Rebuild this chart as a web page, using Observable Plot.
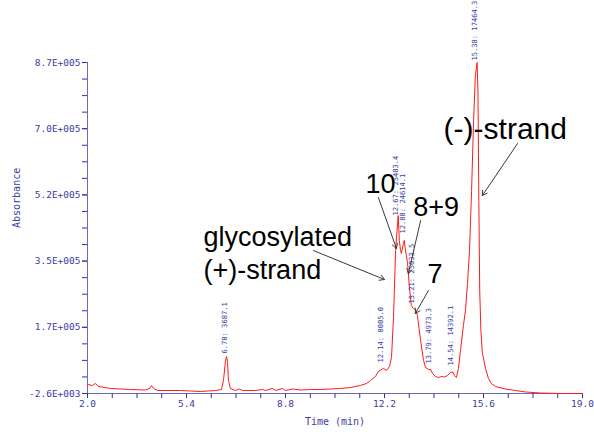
<!DOCTYPE html>
<html><head><meta charset="utf-8">
<script src="https://cdn.jsdelivr.net/npm/d3@7"></script>
<script src="https://cdn.jsdelivr.net/npm/@observablehq/plot@0.6"></script>
<style>html,body{margin:0;padding:0;background:#fff}</style>
</head><body><div id="chart"></div>
<script>
// Chromatogram trace: time (min) and absorbance (thousands)
const time = [2.00, 2.17, 2.27, 2.38, 2.79, 3.48, 3.99, 4.13, 4.20, 4.27, 4.40, 5.19, 5.88, 6.40, 6.60, 6.67, 6.74, 6.78, 6.81, 6.84, 6.91, 7.08, 7.22, 7.32, 7.77, 8.01, 8.11, 8.35, 8.46, 8.70, 8.80, 9.04, 9.31, 9.66, 10.00, 10.34, 10.69, 11.03, 11.37, 11.58, 11.72, 11.89, 11.99, 12.10, 12.16, 12.27, 12.37, 12.44, 12.51, 12.58, 12.65, 12.67, 12.71, 12.75, 12.78, 12.85, 12.88, 12.91, 12.99, 13.05, 13.12, 13.19, 13.26, 13.33, 13.44, 13.54, 13.61, 13.71, 13.79, 13.85, 13.95, 14.05, 14.16, 14.26, 14.36, 14.47, 14.54, 14.60, 14.67, 14.74, 14.81, 14.91, 14.98, 15.05, 15.12, 15.19, 15.26, 15.32, 15.38, 15.41, 15.44, 15.47, 15.51, 15.56, 15.67, 15.77, 15.87, 16.01, 16.35, 16.70, 17.04, 17.56, 18.24, 19.00];
const absorbanceK = [21.1, 18.5, 23.8, 15.9, 10.6, 7.9, 6.6, 10.6, 18.5, 10.6, 5.3, 5.3, 2.7, 5.3, 7.9, 31.7, 84.4, 94.9, 79.1, 31.7, 10.6, 5.3, 9.3, 5.3, 5.3, 7.9, 5.3, 10.6, 5.3, 10.6, 5.3, 9.3, 6.6, 7.9, 7.9, 9.3, 10.6, 13.2, 18.5, 23.8, 31.7, 42.2, 55.4, 60.7, 63.3, 58.0, 68.6, 92.3, 197.7, 374.3, 448.2, 466.6, 400.9, 374.3, 366.4, 392.8, 400.9, 379.6, 342.7, 282.1, 229.4, 221.5, 218.8, 203.0, 137.1, 84.4, 66.0, 60.7, 60.7, 50.1, 42.2, 39.6, 42.2, 40.9, 44.9, 52.8, 54.1, 44.9, 39.6, 63.3, 110.7, 176.6, 216.2, 287.4, 374.3, 530.0, 717.0, 835.6, 870.0, 796.1, 506.1, 268.9, 163.3, 105.0, 63.3, 36.9, 23.8, 15.9, 9.3, 5.3, 1.4, -1.3, -2.6, -2.6];

// Axis ticks
const xTicks = [2.0, 5.4, 8.8, 12.2, 15.6, 19.0];
const yTicks = [-2600, 171920, 346440, 520960, 695480, 870000];
const yTickLabels = ["-2.6E+003", "1.7E+005", "3.5E+005", "5.2E+005", "7.0E+005", "8.7E+005"];

// Peak labels (retention time: area)
const peakTimes = [6.78, 12.14, 12.67, 12.88, 13.21, 13.79, 14.54, 15.38];
const peakLabels = ["6.78: 3687.1", "12.14: 8005.0", "12.67: 25403.4", "12.88: 24614.1", "13.21: 25033.5", "13.79: 4973.3", "14.54: 14392.1", "15.38: 17464.3"];
const peakLabelK = [102.8, 79.1, 466.6, 419.2, 234.6, 76.5, 71.2, 875.2];

// Annotations
const annoText = ["glycosylated", "(+)-strand", "10", "8+9", "7", "(-)-strand"];
const annoT = [5.98, 5.98, 11.55, 13.19, 13.68, 14.23];
const annoK = [387.5, 300.5, 527.2, 466.6, 287.4, 669.6];
const annoSize = [27, 27, 27, 27, 27, 30];

// Arrows (from -> to), time and absorbance (thousands)
const arrowT1 = [9.76, 11.99, 13.44, 13.71, 16.77];
const arrowK1 = [374.3, 514.1, 453.4, 268.9, 656.4];
const arrowT2 = [12.20, 12.61, 13.02, 13.26, 15.56];
const arrowK2 = [297.9, 379.6, 313.7, 208.3, 519.3];

const absorbance = absorbanceK.map(k => k * 1000);
const yLabelMap = new Map(yTicks.map((v, i) => [v, yTickLabels[i]]));
const yMinor = d3.range(0, 21).map(i => yTicks[0] + i * (yTicks[1] - yTicks[0]) / 4);
const xMinor = d3.range(0, 21).map(i => xTicks[0] + i * (xTicks[1] - xTicks[0]) / 4);

const axisColor = "#6a6ac0";
const tickColor = "#34349a";
const labelColor = "#3c3ca0";

const chart = Plot.plot({
  width: 594,
  height: 432,
  marginLeft: 87,
  marginRight: 12,
  marginTop: 62,
  marginBottom: 39,
  x: {domain: [2, 19]},
  y: {domain: [-2600, 870000]},
  style: {fontFamily: "DejaVu Sans Mono", background: "white", overflow: "visible"},
  marks: [
    Plot.ruleX([2], {stroke: axisColor}),
    Plot.ruleY([-2600], {stroke: axisColor}),
    Plot.axisY({ticks: yMinor, tickSize: 5, tickFormat: () => "", stroke: tickColor, label: null}),
    Plot.axisY({ticks: yTicks, tickSize: 5, tickPadding: 2, tickFormat: d => yLabelMap.get(d), stroke: tickColor, fill: labelColor, fontSize: 9.5, label: null}),
    Plot.axisX({ticks: xMinor, tickSize: 5, tickFormat: () => "", stroke: tickColor, label: null}),
    Plot.axisX({ticks: xTicks, tickSize: 5, tickPadding: 2, tickFormat: d3.format(".1f"), stroke: tickColor, fill: labelColor, fontSize: 9.5, label: null}),
    Plot.text(["Absorbance"], {frameAnchor: "left", dx: -71, rotate: -90, fill: labelColor, fontSize: 10}),
    Plot.text(["Time (min)"], {frameAnchor: "bottom", dy: 31, fill: labelColor, fontSize: 10}),
    Plot.line(time, {x: time, y: absorbance, stroke: "#ff1a1a", strokeWidth: 1}),
    Plot.text(peakLabels, {x: peakTimes, y: peakLabelK.map(k => k * 1000), text: peakLabels, rotate: -90, textAnchor: "start", dx: -2, fill: labelColor, fontSize: 7.1}),
    Plot.arrow(arrowT1, {x1: arrowT1, y1: arrowK1.map(k => k * 1000), x2: arrowT2, y2: arrowK2.map(k => k * 1000), stroke: "#3a3a3a", strokeWidth: 1, headLength: 8}),
    Plot.text(annoText, {x: annoT, y: annoK.map(k => k * 1000), text: annoText, textAnchor: "start", lineAnchor: "bottom", fontFamily: "Liberation Sans", fontSize: annoSize, fill: "black"})
  ]
});
document.getElementById("chart").append(chart);
</script>
</body></html>
